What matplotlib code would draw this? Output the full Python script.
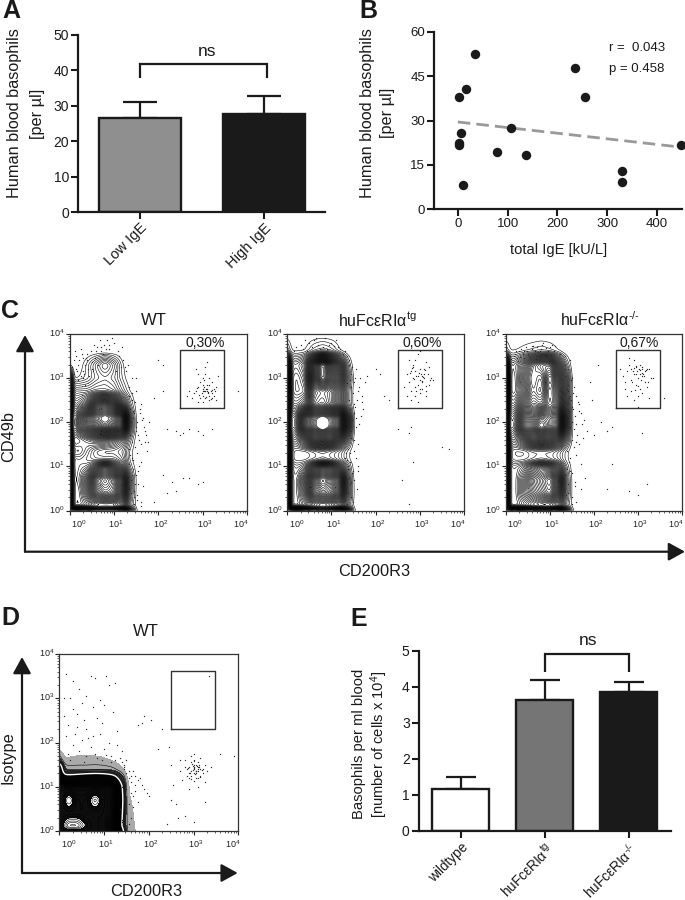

# plot.py - basophil figure, panels A-E
import numpy as np
import matplotlib
matplotlib.use("Agg")
import matplotlib.pyplot as plt

plt.rcParams["font.family"] = ["Liberation Sans", "DejaVu Sans"]
plt.rcParams["mathtext.fontset"] = "custom"
plt.rcParams["mathtext.rm"] = "Liberation Sans"
plt.rcParams["mathtext.it"] = "Liberation Sans"
plt.rcParams["mathtext.bf"] = "Liberation Sans:bold"
plt.rcParams["mathtext.default"] = "regular"

W, H = 685, 900
INK = "#1a1a1a"

# panel A
A_LABELS = ["Low IgE", "High IgE"]
A_MEANS = [26.5, 27.8]
A_ERRS = [4.7, 4.9]
A_COLORS = ["#8f8f8f", "#1a1a1a"]
A_TICKS = [0, 10, 20, 30, 40, 50]

# panel B
B_IGE = [35, 236, 255, 17, 2, 106, 6, 3, 1.5, 78, 138, 330, 330, 10, 448]
B_BASO = [52.4, 47.8, 37.9, 40.8, 38.1, 27.3, 25.6, 22.3, 21.7, 19.2, 18.3, 12.8, 9.2, 8.1, 21.7]
B_FIT_X = [0, 447]
B_FIT_Y = [29.5, 21.0]
B_XTICKS = [0, 100, 200, 300, 400]
B_YTICKS = [0, 15, 30, 45, 60]

# panel E
E_LABELS = ["wildtype", r"huFcεRIα$^{tg}$", r"huFcεRIα$^{\text{-/-}}$"]
E_MEANS = [1.16, 3.62, 3.85]
E_ERRS = [0.34, 0.58, 0.28]
E_COLORS = ["white", "#757575", "#1a1a1a"]
E_TICKS = [0, 1, 2, 3, 4, 5]

# flow plots: contour heights read by eye, on log10 axes
FLOW_X = [0, 0.08, 0.2, 0.4, 0.6, 0.8, 1.0, 1.2, 1.35, 1.5, 1.8]
FLOW_Y = [0, 0.1, 0.4, 0.7, 1.0, 1.15, 1.35, 1.6, 1.9, 2.1, 2.4, 2.7, 3.0, 3.3, 3.6, 4.0]

C1_GRID = [
    [30, 30, 30, 30, 30, 30, 30, 30, 12, 0.8, 0],
    [30, 10, 9, 11, 14, 14, 14, 11, 3, 0.5, 0],
    [30, 10, 9, 16, 26, 30, 28, 18, 5, 0.5, 0],
    [30, 10, 10, 18, 30, 34, 30, 20, 6, 0.5, 0],
    [30, 9, 10, 11, 16, 22, 16, 9, 2.5, 0.4, 0],
    [30, 9, 10, 9, 8, 8, 8, 6, 1.5, 0.3, 0],
    [30, 12, 13, 10, 7, 6, 6, 5, 1.5, 0.3, 0],
    [30, 9, 10, 12, 14, 14, 12, 8, 3, 0.4, 0],
    [30, 12, 18, 26, 32, 36, 32, 24, 7, 0.5, 0],
    [30, 12, 18, 28, 36, 40, 36, 26, 7, 0.5, 0],
    [30, 9, 10, 14, 24, 28, 22, 10, 3, 0.4, 0],
    [24, 6, 6, 6, 7, 7, 6, 3, 1, 0.2, 0],
    [14, 0.5, 1, 2, 4, 5, 4, 1.5, 0.2, 0, 0],
    [1, 0, 0, 2, 5, 8, 5, 1, 0, 0, 0],
    [0, 0, 0, 0, 0, 0, 0, 0, 0, 0, 0],
    [0, 0, 0, 0, 0, 0, 0, 0, 0, 0, 0],
]
C2_GRID = [
    [30, 30, 30, 30, 30, 30, 30, 30, 16, 1, 0],
    [30, 9, 7, 10, 14, 16, 14, 10, 4, 0.6, 0],
    [30, 9, 7, 14, 26, 30, 28, 20, 7, 0.6, 0],
    [30, 9, 7, 16, 28, 36, 30, 22, 7, 0.5, 0],
    [30, 8, 6, 8, 16, 22, 18, 10, 4, 0.4, 0],
    [30, 5, 4, 4, 5, 6, 5, 3.5, 1.5, 0.3, 0],
    [30, 5, 4, 4, 5, 6, 5, 3.5, 1.5, 0.3, 0],
    [30, 9, 8, 14, 22, 24, 22, 14, 6, 0.4, 0],
    [30, 12, 14, 28, 36, 42, 36, 28, 12, 0.6, 0],
    [30, 12, 14, 28, 36, 40, 36, 28, 12, 0.6, 0],
    [30, 8, 7, 10, 20, 22, 18, 11, 4, 0.4, 0],
    [30, 6, 4, 5, 18, 20, 18, 11, 4, 0.4, 0],
    [30, 6, 4, 7, 24, 36, 26, 16, 6, 0.4, 0],
    [28, 7, 6, 9, 24, 36, 24, 13, 3.5, 0.2, 0],
    [4, 1, 0.8, 1, 3, 4, 3, 1, 0.3, 0, 0],
    [0, 0, 0, 0, 0, 0, 0, 0, 0, 0, 0],
]
C3_GRID = [
    [30, 30, 30, 30, 30, 30, 30, 30, 14, 1, 0],
    [30, 8, 7, 9, 11, 12, 12, 9, 3, 0.6, 0],
    [30, 8, 7, 13, 18, 22, 26, 16, 5, 0.5, 0],
    [30, 8, 7, 13, 20, 24, 28, 18, 5, 0.5, 0],
    [30, 8, 7, 9, 14, 18, 16, 10, 3, 0.4, 0],
    [30, 5, 4, 4, 5, 6, 5, 3.5, 1.5, 0.3, 0],
    [30, 5, 3.5, 3.5, 5, 5, 5, 3.5, 1.5, 0.3, 0],
    [30, 9, 8, 13, 20, 22, 20, 14, 6, 0.4, 0],
    [30, 12, 14, 26, 32, 40, 34, 28, 11, 0.5, 0],
    [30, 12, 13, 24, 30, 36, 34, 28, 11, 0.5, 0],
    [30, 8, 8, 16, 22, 20, 26, 20, 9, 0.4, 0],
    [30, 6, 5, 11, 19, 16, 26, 18, 8, 0.4, 0],
    [30, 6, 5, 13, 20, 17, 28, 17, 8, 0.4, 0],
    [26, 6, 6, 11, 18, 22, 22, 11, 3.5, 0.2, 0],
    [3, 1, 1, 1.5, 2, 2.5, 2, 1, 0.2, 0, 0],
    [0, 0, 0, 0, 0, 0, 0, 0, 0, 0, 0],
]
D_GRID = [
    [22, 22, 22, 22, 22, 22, 22, 22, 10, 0.8, 0.2],
    [22, 24, 28, 28, 24, 22, 22, 16, 6, 0.7, 0.2],
    [22, 22, 22, 22, 22, 22, 22, 20, 7, 0.6, 0.2],
    [22, 22, 27, 22, 22, 27, 22, 20, 8, 0.5, 0.2],
    [22, 22, 20, 20, 20, 20, 20, 18, 7, 0.4, 0.2],
    [22, 10, 9, 10, 12, 13, 12, 9, 4, 0.3, 0.1],
    [14, 2, 1.5, 1.5, 1.5, 1.6, 1.6, 1.4, 0.8, 0.2, 0],
    [2, 0.5, 0.5, 0.6, 0.6, 0.6, 0.5, 0.3, 0.1, 0, 0],
    [0, 0, 0, 0, 0, 0, 0, 0, 0, 0, 0],
    [0, 0, 0, 0, 0, 0, 0, 0, 0, 0, 0],
    [0, 0, 0, 0, 0, 0, 0, 0, 0, 0, 0],
    [0, 0, 0, 0, 0, 0, 0, 0, 0, 0, 0],
    [0, 0, 0, 0, 0, 0, 0, 0, 0, 0, 0],
    [0, 0, 0, 0, 0, 0, 0, 0, 0, 0, 0],
    [0, 0, 0, 0, 0, 0, 0, 0, 0, 0, 0],
    [0, 0, 0, 0, 0, 0, 0, 0, 0, 0, 0],
]

# events outside the contours
C1_DOTS_X = [0.1, 0.2, 0.3, 0.15, 0.4, 0.5, 0.25, 0.35, 0.6, 0.55, 0.1, 0.3, 0.45, 0.7, 0.85, 1.0, 1.1, 0.95, 0.75, 1.2,
             0.65, 0.9, 1.15, 1.05, 0.2, 0.4, 0.35, 0.5, 0.15, 0.25, 0.1, 0.3,
             1.35, 1.4, 1.45, 1.5, 1.55, 1.6, 1.4, 1.5, 1.65, 1.7, 1.35, 1.45, 1.55, 1.75, 1.4, 1.6, 1.5, 1.8,
             1.38, 1.48, 1.58, 1.42, 1.52, 1.62, 1.36, 1.44, 1.7, 1.9, 1.46, 1.56, 1.34, 1.4, 1.5, 1.6,
             2.0, 2.1, 2.2, 2.4, 2.5, 2.55, 2.7, 2.9, 3.0, 3.2, 2.1, 2.3, 2.55, 2.7, 2.9, 3.0, 1.9, 2.1, 2.2, 2.4, 3.8,
             2.8, 2.9, 3.0, 3.1, 3.2, 3.05, 2.95, 3.15, 3.25, 2.85, 3.0, 3.1, 3.05, 3.2, 3.3, 2.75, 2.9, 3.0,
             3.15, 3.1, 3.25, 3.0, 2.95, 3.35, 2.7, 3.1, 3.05, 2.85, 3.2, 3.0, 3.15, 2.65, 2.9, 3.05, 3.3,
             0.05, 0.12, 0.18, 0.22, 0.28, 0.33, 0.38, 0.42, 0.48, 0.52, 0.58, 0.62, 0.68, 0.72, 0.78, 0.82, 0.88, 1.12, 1.18, 1.24, 1.28, 1.32,
             1.33, 1.37, 1.41, 1.43, 1.47, 1.49, 1.53, 1.57, 1.59, 1.63, 1.67, 1.72, 1.78, 1.36, 1.39, 1.46, 1.51, 1.54, 1.66, 1.41, 1.35, 1.44, 1.52, 1.6, 1.48, 1.38,
             3.02, 3.08, 3.12, 3.18, 2.98, 3.04, 3.14, 3.22, 2.92, 3.08, 3.0, 3.12, 3.28, 3.02, 2.88, 3.18]
C1_DOTS_Y = [3.1, 3.3, 3.0, 3.5, 3.4, 3.2, 3.65, 2.85, 3.6, 3.75, 2.9, 3.15, 3.05, 3.7, 3.85, 3.8, 3.6, 3.9, 3.55, 3.4,
             3.3, 3.65, 3.25, 3.15, 2.95, 3.55, 3.3, 3.35, 3.2, 3.05, 3.4, 3.45,
             2.8, 2.5, 2.2, 1.9, 1.7, 1.5, 1.2, 0.8, 2.1, 1.8, 0.5, 0.3, 0.6, 1.35, 1.55, 2.4, 2.7, 2.0,
             2.0, 1.45, 2.3, 0.95, 0.35, 0.2, 1.7, 2.25, 1.55, 2.55, 0.15, 1.0, 1.05, 3.0, 3.0, 1.1,
             3.4, 2.7, 1.85, 1.8, 1.7, 1.75, 1.85, 1.8, 1.7, 1.85, 0.8, 0.65, 0.75, 0.75, 0.6, 0.65, 0.2, 3.3, 0.4, 0.45, 2.7,
             2.65, 2.8, 3.0, 3.35, 2.9, 2.7, 2.55, 2.6, 2.75, 3.2, 2.85, 2.7, 2.55, 2.65, 2.5, 2.55, 3.1, 2.7,
             3.0, 2.75, 2.6, 2.6, 2.9, 3.05, 2.7, 2.85, 3.25, 2.7, 2.55, 2.45, 2.5, 2.6, 2.45, 3.1, 2.8,
             3.25, 3.6, 3.15, 3.4, 3.55, 3.1, 3.45, 3.2, 3.6, 3.15, 3.45, 3.7, 3.85, 3.6, 3.75, 3.65, 3.75, 3.5, 3.7, 3.25, 3.15, 3.3,
             2.6, 2.3, 2.65, 2.1, 2.45, 1.8, 2.0, 1.6, 2.2, 2.05, 1.9, 1.7, 1.55, 1.25, 0.7, 0.45, 1.3, 0.9, 0.55, 0.8, 1.4, 1.15, 0.25, 0.1, 0.6, 0.4,
             2.7, 2.75, 2.65, 2.7, 2.65, 2.8, 2.85, 2.72, 2.62, 2.58, 2.75, 2.68, 2.7, 2.95, 2.78, 2.52]

C2_DOTS_X = [0.2, 0.35, 0.5, 0.7, 0.85, 1.0, 1.15, 0.6, 0.9, 1.25, 0.3, 0.45, 0.75, 1.05, 0.15,
             1.4, 1.45, 1.5, 1.55, 1.6, 1.65, 1.4, 1.5, 1.55, 1.7, 1.75, 1.45, 1.5, 1.6, 1.42, 1.48, 1.52, 1.38, 1.44, 1.58,
             1.4, 1.45, 1.5, 1.55, 1.42, 1.38, 1.6, 1.36, 1.48, 1.8, 2.0, 2.1, 2.2, 2.3, 2.5, 2.75, 2.8, 3.5, 3.65, 2.6, 2.85, 2.75,
             2.7, 2.75, 2.8, 2.85, 2.9, 2.95, 3.0, 3.05, 3.1, 3.15, 3.2, 2.8, 2.9, 3.0, 3.1, 3.2, 2.85, 2.95, 3.05, 3.15,
             2.75, 2.9, 3.0, 3.1, 3.25, 2.65, 2.8, 3.0, 3.15, 2.95, 3.05, 3.3, 2.7, 2.85,
             0.4, 0.55, 0.65, 0.8, 0.95, 1.1, 1.2, 1.3, 1.35, 1.46, 1.53, 1.62, 1.68, 1.72, 1.43, 1.49, 1.57, 1.66, 1.41, 1.47, 1.54, 1.63,
             1.39, 1.44, 1.51, 1.56, 1.61, 1.37, 1.42, 1.46, 1.35, 1.33, 1.4, 1.31, 1.3, 1.34, 1.38, 1.45, 1.32,
             2.88, 2.92, 2.98, 3.02, 3.08, 3.12, 2.82, 3.18, 2.78, 3.22, 2.96, 3.04, 2.87, 3.13, 3.0, 2.92]
C2_DOTS_Y = [3.7, 3.65, 3.8, 3.75, 3.9, 3.8, 3.7, 3.85, 3.65, 3.55, 3.75, 3.6, 3.65, 3.72, 3.6,
             3.4, 3.1, 2.9, 3.2, 2.7, 3.0, 2.5, 2.4, 2.1, 2.6, 2.9, 1.8, 1.6, 1.5, 1.1, 0.9, 0.7, 0.4, 0.3, 0.5,
             3.3, 2.8, 2.2, 1.9, 1.3, 1.0, 0.9, 0.15, 0.2, 3.05, 3.2, 3.1, 2.6, 2.5, 1.85, 1.75, 1.9, 1.45, 1.4, 0.7, 1.1, 0.15,
             3.1, 3.4, 2.7, 3.0, 2.8, 3.55, 3.2, 2.9, 3.0, 2.7, 3.25, 2.5, 2.6, 2.95, 3.1, 2.85, 3.3, 3.05, 2.75, 2.6,
             2.9, 3.4, 2.65, 3.2, 3.0, 2.8, 3.15, 3.6, 3.35, 2.45, 3.05, 2.95, 2.6, 3.25,
             3.85, 3.7, 3.9, 3.7, 3.75, 3.85, 3.65, 3.6, 3.5, 3.25, 3.0, 2.8, 2.45, 2.3, 2.95, 2.65, 2.5, 2.15, 2.3, 2.05, 2.35, 1.95,
             1.7, 1.65, 1.35, 1.2, 1.0, 1.4, 0.6, 0.85, 1.15, 1.3, 0.75, 0.25, 1.2, 0.55, 0.95, 0.65, 0.45,
             3.15, 3.05, 3.12, 3.1, 3.02, 3.18, 3.22, 3.08, 3.12, 2.95, 2.85, 2.92, 2.98, 2.82, 2.75, 2.7]

C3_DOTS_X = [0.1, 0.2, 0.3, 0.4, 0.5, 0.6, 0.7, 0.8, 0.9, 1.0, 1.1, 0.15, 0.25, 0.35, 0.45, 0.55, 0.65, 0.75, 0.85, 0.95, 1.05,
             1.35, 1.4, 1.45, 1.5, 1.55, 1.6, 1.65, 1.7, 1.4, 1.45, 1.5, 1.55, 1.6, 1.35, 1.42, 1.48, 1.52, 1.58, 1.62, 1.38, 1.44, 1.5, 1.56,
             1.36, 1.42, 1.5, 1.6, 1.7, 1.8, 1.38, 1.46, 1.75, 1.85, 1.95, 2.1, 2.0, 2.3, 2.4, 1.9, 2.15, 2.3, 2.8, 3.0, 3.2, 3.6, 3.1, 2.4,
             2.6, 2.7, 2.8, 2.9, 3.0, 3.1, 3.2, 3.3, 2.65, 2.75, 2.85, 2.95, 3.05, 3.15, 3.25, 2.75, 2.85, 2.95, 3.05, 3.15,
             2.8, 2.9, 3.0, 3.1, 3.2, 2.85, 2.95, 3.05, 3.0, 3.1, 2.9, 2.7, 3.35, 3.25,
             0.12, 0.22, 0.32, 0.42, 0.52, 0.62, 0.72, 0.82, 0.92, 1.02, 1.12, 1.22, 0.18, 0.28, 0.38, 0.48, 0.58, 0.68, 0.78,
             1.37, 1.41, 1.43, 1.47, 1.49, 1.53, 1.57, 1.63, 1.67, 1.72, 1.78, 1.34, 1.39, 1.46, 1.51, 1.54, 1.59, 1.66, 1.7, 1.33, 1.4, 1.45, 1.5, 1.56,
             2.98, 3.02, 3.08, 3.12, 3.18, 2.92, 2.88, 3.04, 3.14, 3.22, 2.96, 3.06, 3.0, 2.86, 3.1, 2.94]
C3_DOTS_Y = [3.5, 3.55, 3.6, 3.45, 3.55, 3.65, 3.7, 3.65, 3.55, 3.7, 3.6, 3.35, 3.45, 3.65, 3.7, 3.45, 3.6, 3.5, 3.8, 3.6, 3.75,
             3.3, 3.2, 3.4, 3.0, 2.8, 2.6, 2.4, 2.2, 2.1, 1.9, 1.6, 1.85, 1.55, 3.5, 2.7, 2.5, 2.3, 1.95, 1.7, 1.35, 1.1, 0.85, 0.65,
             0.35, 0.4, 0.3, 0.2, 0.5, 0.75, 0.95, 1.2, 1.65, 1.8, 2.5, 3.3, 1.7, 1.8, 1.9, 2.9, 2.0, 0.5, 0.45, 0.35, 0.6, 2.55, 1.75, 1.05,
             3.2, 2.9, 3.3, 3.1, 3.0, 3.25, 3.2, 3.0, 3.05, 3.15, 2.95, 3.1, 3.3, 3.15, 3.2, 2.6, 2.7, 2.85, 2.75, 2.9,
             3.45, 2.5, 2.6, 2.65, 2.8, 3.2, 3.25, 3.1, 2.35, 3.05, 3.4, 2.75, 3.0, 2.55,
             3.42, 3.6, 3.48, 3.62, 3.5, 3.72, 3.58, 3.75, 3.68, 3.52, 3.72, 3.55, 3.5, 3.38, 3.55, 3.62, 3.72, 3.42, 3.62,
             3.05, 2.85, 2.55, 2.95, 2.35, 2.65, 2.15, 2.45, 2.25, 1.95, 2.05, 3.2, 2.75, 2.6, 2.0, 1.45, 1.25, 1.5, 1.05, 0.8, 0.6, 0.9, 0.15, 0.55,
             3.15, 3.2, 3.12, 3.08, 3.18, 3.22, 3.15, 3.18, 3.05, 2.9, 3.28, 2.95, 2.82, 2.9, 3.2, 2.72]

D_DOTS_X = [0.15, 0.3, 0.45, 0.7, 0.8, 1.05, 1.1, 1.25, 0.25, 0.5, 0.6, 0.75, 0.9, 1.0, 0.1, 0.2, 0.4, 0.55, 0.85, 0.95,
            1.2, 1.3, 0.35, 0.65, 0.15, 0.3, 0.5, 0.7, 0.9, 1.1, 1.3, 1.4, 0.2, 0.45, 0.6, 0.8, 1.0, 1.15, 0.25, 0.55,
            0.1, 0.3, 0.4, 0.6, 0.75, 0.85, 0.95, 1.05, 1.15, 1.25, 1.35, 1.45,
            1.4, 1.45, 1.5, 1.55, 1.6, 1.65, 1.7, 1.75, 1.4, 1.5, 1.6, 1.7, 1.45, 1.55, 1.65, 1.35, 1.5, 1.6, 1.4, 1.55, 1.8, 1.85, 1.9, 1.95,
            2.0, 1.65, 1.75, 1.7, 1.45, 1.55, 1.5, 1.4, 1.6,
            1.75, 1.9, 1.85, 2.05, 2.2, 2.3, 2.45, 2.5, 2.7, 2.55, 2.9, 3.1, 3.25, 2.5, 2.65, 3.0, 2.4, 2.8, 3.6, 3.9, 2.6,
            2.7, 2.8, 2.85, 2.9, 2.95, 3.0, 3.05, 3.1, 3.15, 3.2, 3.25, 3.3, 3.4, 2.75, 2.85, 2.95, 3.05, 3.15, 3.25,
            2.8, 2.9, 3.0, 3.1, 3.2, 3.0, 2.95, 3.05, 3.1, 2.9, 3.0, 3.15, 3.0, 3.1, 3.05, 3.0, 2.95, 3.35,
            2.98, 3.02, 3.06, 3.08, 3.12, 2.92, 2.96, 3.04, 3.1, 3.14, 2.88, 3.18, 2.94, 3.0, 3.06, 3.12, 3.02, 2.98]
D_DOTS_Y = [3.55, 3.4, 3.2, 3.5, 3.45, 3.5, 3.3, 3.35, 3.0, 2.9, 3.05, 2.8, 2.95, 2.85, 2.6, 2.4, 2.65, 2.5, 2.55, 2.45,
            2.7, 2.25, 2.2, 2.1, 2.15, 1.95, 2.05, 1.9, 2.2, 2.0, 1.95, 1.8, 1.75, 1.8, 1.7, 1.75, 1.85, 1.7, 1.6, 1.55,
            3.0, 2.75, 2.35, 2.3, 2.15, 1.65, 1.6, 1.72, 1.55, 1.6, 1.65, 1.5,
            1.55, 1.4, 1.3, 1.2, 1.1, 1.35, 1.25, 1.15, 1.0, 0.95, 0.85, 1.05, 0.7, 0.6, 0.8, 0.5, 0.4, 0.3, 0.2, 0.15, 1.2, 1.05, 0.95, 0.85,
            0.8, 0.55, 0.65, 0.9, 1.45, 1.35, 1.6, 0.25, 1.25,
            2.4, 2.6, 2.45, 2.5, 1.85, 2.3, 1.9, 1.5, 1.6, 1.05, 0.95, 1.0, 0.65, 0.7, 0.3, 0.2, 0.15, 0.35, 1.75, 1.7, 0.6,
            1.35, 1.6, 1.4, 1.45, 1.25, 1.5, 1.35, 1.55, 1.4, 1.3, 1.5, 1.35, 1.45, 1.15, 1.25, 1.7, 1.2, 1.25, 1.1,
            1.45, 1.3, 1.4, 1.45, 1.4, 1.3, 1.35, 1.5, 1.2, 1.2, 1.6, 1.65, 1.75, 1.4, 1.35, 1.45, 1.55, 3.5,
            1.38, 1.42, 1.35, 1.48, 1.44, 1.32, 1.52, 1.28, 1.36, 1.22, 1.42, 1.38, 1.18, 1.58, 1.3, 1.5, 1.12, 1.46]

# gate: x0, x1, y0, y1 in log10 units
C1_GATE = [2.48, 3.48, 2.32, 3.63]
C2_GATE = [2.50, 3.50, 2.32, 3.63]
C3_GATE = [2.49, 3.50, 2.32, 3.63]
D_GATE = [2.50, 3.49, 2.30, 3.62]

DECADES = [0, 1, 2, 3, 4]
DECADE_LABELS = [r"$10^{0}$", r"$10^{1}$", r"$10^{2}$", r"$10^{3}$", r"$10^{4}$"]
XLABEL_SHIFT = [9, 2, 2, 2, -6]


def px_axes(fig, left, top, right, bottom):
    return fig.add_axes([left / W, 1 - bottom / H, (right - left) / W, (bottom - top) / H])


def style_graph(ax, tick_fs=10):
    for s in ["top", "right"]:
        ax.spines[s].set_visible(False)
    for s in ["left", "bottom"]:
        ax.spines[s].set_linewidth(1.6)
        ax.spines[s].set_color(INK)
    ax.tick_params(width=1.5, length=5, color=INK, labelcolor=INK, labelsize=tick_fs, pad=1.5)


def bars(ax, means, errs, colors, width, capsize):
    xs = np.arange(len(means))
    ax.bar(xs, means, width, color=colors, edgecolor=INK, linewidth=1.7, zorder=2)
    ax.errorbar(xs, means, yerr=[np.zeros(len(errs)), errs], fmt="none", ecolor=INK,
                elinewidth=1.6, capsize=capsize, capthick=1.6, zorder=1)
    ax.set_xticks(xs)


def bracket(ax, x0, x1, y0, y1):
    ax.plot([x0, x0, x1, x1], [y0, y1, y1, y0], color=INK, lw=1.6, clip_on=False,
            solid_joinstyle="miter", solid_capstyle="butt")


def soften(grid):
    # the hand-read grid is coarse, round it off so the contours are not polygons
    z = np.array(grid, dtype=float)
    fine = np.linspace(0, 4, 201)
    z = np.array([np.interp(fine, FLOW_X + [4], list(r) + [0]) for r in z])
    z = np.array([np.interp(fine, FLOW_Y, c) for c in z.T]).T
    kernel = np.ones(5) / 5
    for _ in range(2):
        z = np.pad(z, 2, mode="edge")
        z = np.apply_along_axis(lambda v: np.convolve(v, kernel, mode="valid"), 0, z)
        z = np.apply_along_axis(lambda v: np.convolve(v, kernel, mode="valid"), 1, z)
    return fine, z


def flow_plot(ax, grid, dots_x, dots_y, gate, solid=False):
    fine, z = soften(grid)
    if solid:
        ax.contourf(fine, fine, z, levels=[0.4, 1.5], colors=["#aaaaaa"], zorder=1)
        ax.contourf(fine, fine, z, levels=[1.5, 4.5], colors=["#444444"], zorder=1)
        ax.contourf(fine, fine, z, levels=[4.5, 24], colors=["#0d0d0d"], zorder=1.5)
    ax.contour(fine, fine, z, levels=np.arange(1.0, 38.0, 0.7), colors="black",
               linewidths=0.4, zorder=2)
    if solid:
        ax.contour(fine, fine, z, levels=[4.5], colors="white", linewidths=1.0, zorder=2.5)
    ax.plot(dots_x, dots_y, ls="none", marker="s", ms=0.85, mew=0, color="#2a2a2a", zorder=3)
    x0, x1, y0, y1 = gate
    ax.plot([x0, x1, x1, x0, x0], [y0, y0, y1, y1, y0], color="#333333", lw=1.0, zorder=4)
    ax.set_xlim(0, 4)
    ax.set_ylim(0, 4)
    minor = [d + np.log10(m) for d in DECADES[:-1] for m in range(2, 10)]
    ax.set_xticks(DECADES)
    ax.set_yticks(DECADES)
    ax.set_xticks(minor, minor=True)
    ax.set_yticks(minor, minor=True)
    ax.set_xticklabels([])
    ax.set_yticklabels([])
    ax.tick_params(which="major", length=3, width=0.8, color="#222222")
    ax.tick_params(which="minor", length=1.5, width=0.5, color="#222222")
    for s in ax.spines.values():
        s.set_linewidth(0.9)
        s.set_color("#333333")
    for d, lab, dx in zip(DECADES, DECADE_LABELS, XLABEL_SHIFT):
        ax.annotate(lab, (d, 0), xytext=(dx, -13), xycoords="data", textcoords="offset pixels",
                    ha="center", va="center", fontsize=6.5, color="#222222", annotation_clip=False)
        ax.annotate(lab, (0, d), xytext=(-13, 1), xycoords="data", textcoords="offset pixels",
                    ha="center", va="center", fontsize=6.5, color="#222222", annotation_clip=False)


def arrow(ov, x0, y0, x1, y1):
    ov.annotate("", (x1, y1), (x0, y0), arrowprops=dict(
        arrowstyle="-|>,head_length=1.0,head_width=0.55", mutation_scale=10, lw=1.6,
        color=INK, shrinkA=0, shrinkB=0))


fig = plt.figure(figsize=(W / 100, H / 100), dpi=100, facecolor="white")

# A
ax = px_axes(fig, 78, 35, 325, 212)
bars(ax, A_MEANS, A_ERRS, A_COLORS, 0.66, 12)
ax.set_xlim(-0.5, 1.49)
ax.set_ylim(0, 50)
ax.set_yticks(A_TICKS)
style_graph(ax)
ax.set_xticklabels(A_LABELS, rotation=45, ha="right", rotation_mode="anchor", fontsize=10.5)
bracket(ax, 0.0, 1.02, 37.8, 41.8)

# B
ax = px_axes(fig, 434, 32, 681.6, 209)
ax.plot(B_FIT_X, B_FIT_Y, color="#999999", lw=2.0, ls=(0, (4.5, 2.2)), zorder=2)
ax.plot(B_IGE, B_BASO, ls="none", marker="o", ms=6.8, mew=0, color=INK, clip_on=False, zorder=3)
ax.set_xlim(-48, 450)
ax.set_ylim(0, 60)
ax.set_xticks(B_XTICKS)
ax.set_yticks(B_YTICKS)
style_graph(ax, 9.5)

# C
for left, right, grid, dx, dy, gate in [
        (69.5, 247, C1_GRID, C1_DOTS_X, C1_DOTS_Y, C1_GATE),
        (287.3, 464, C2_GRID, C2_DOTS_X, C2_DOTS_Y, C2_GATE),
        (506, 682, C3_GRID, C3_DOTS_X, C3_DOTS_Y, C3_GATE)]:
    ax = px_axes(fig, left, 333.7, right, 510.7)
    flow_plot(ax, grid, dx, dy, gate)

# D
ax = px_axes(fig, 59.3, 654, 238.3, 831)
flow_plot(ax, D_GRID, D_DOTS_X, D_DOTS_Y, D_GATE, solid=True)

# E
ax = px_axes(fig, 418.7, 650.7, 670.7, 831)
bars(ax, E_MEANS, E_ERRS, E_COLORS, 0.68, 11)
ax.set_xlim(-0.5, 2.5)
ax.set_ylim(0, 5)
ax.set_yticks(E_TICKS)
style_graph(ax)
ax.set_xticklabels(E_LABELS, rotation=45, ha="right", rotation_mode="anchor", fontsize=9.8)
bracket(ax, 1.0, 2.0, 4.41, 4.9)

# overlay in image pixels for loose text and the big arrows
ov = fig.add_axes([0, 0, 1, 1], zorder=10)
ov.set_xlim(0, W)
ov.set_ylim(H, 0)
ov.axis("off")

for t, x, y in [("A", 11, 11), ("B", 368, 11), ("C", 10, 311), ("D", 10, 618), ("E", 359, 619)]:
    ov.text(x, y, t, fontsize=18, fontweight="bold", ha="center", va="center", color=INK)
for t, x, y, fs, rot in [
        ("Human blood basophils", 14.3, 113, 11.7, 90), ("[per µl]", 37.7, 114, 11.7, 90),
        ("ns", 207, 51, 12.5, 0), ("ns", 588, 640.5, 12.5, 0),
        ("Human blood basophils", 367.7, 113, 11.7, 90), ("[per µl]", 387.7, 113, 11.7, 90),
        ("total IgE [kU/L]", 559, 250, 10.6, 0),
        ("WT", 154, 320.7, 12, 0), (r"huFcεRIα$^{tg}$", 377, 320, 11.5, 0),
        (r"huFcεRIα$^{\text{-/-}}$", 600, 320, 11.5, 0),
        ("0,30%", 205, 342.7, 10, 0), ("0,60%", 421.7, 342.7, 10, 0), ("0,67%", 639, 342.7, 10, 0),
        ("CD49b", 9, 437, 11.8, 90), ("CD200R3", 374, 572, 11.8, 0),
        ("WT", 145.7, 632, 12, 0), ("Isotype", 8, 758, 11.8, 90), ("CD200R3", 145.7, 892, 11.8, 0),
        ("Basophils per ml blood", 359, 744, 10.6, 90),
        (r"[number of cells x 10$^{4}$]", 379, 744, 10.6, 90)]:
    ov.text(x, y, t, fontsize=fs, rotation=rot, ha="center", va="center", color=INK)
ov.text(609, 48, "r =  0.043", fontsize=9.5, ha="left", va="center", color=INK)
ov.text(609, 69, "p = 0.458", fontsize=9.5, ha="left", va="center", color=INK)

arrow(ov, 25, 551.7, 25, 335)
arrow(ov, 25, 551.7, 685, 551.7)
arrow(ov, 22, 873, 22, 657)
arrow(ov, 22, 873, 237.7, 873)

fig.savefig("out.png", dpi=100)
